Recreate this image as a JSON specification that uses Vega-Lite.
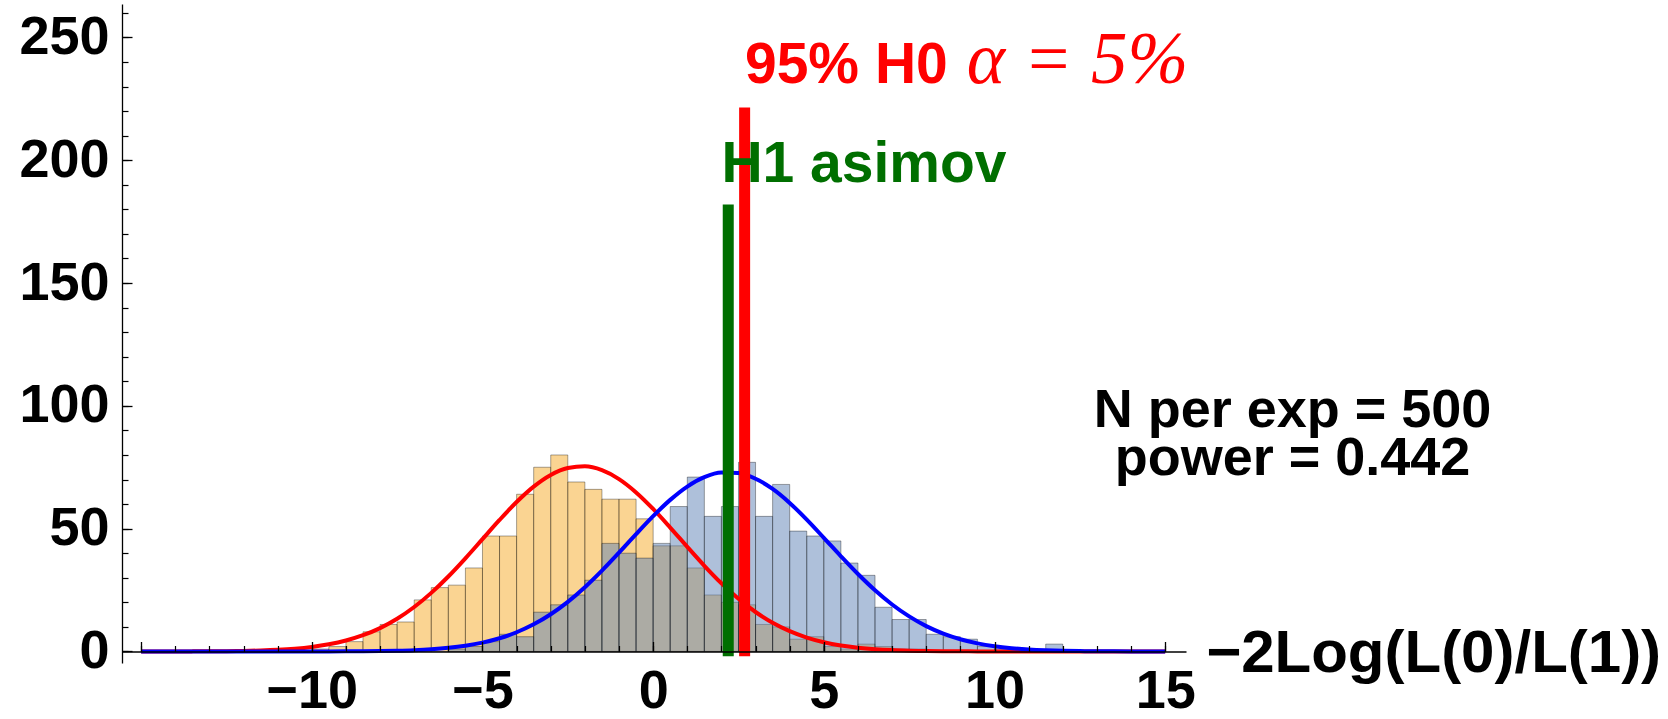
{
  "$schema": "https://vega.github.io/schema/vega-lite/v6.json",
  "width": 1064,
  "height": 659,
  "autosize": {"type": "none"},
  "padding": {"left": 122, "top": 4, "right": 482, "bottom": 56},
  "background": "white",
  "config": {
    "view": {"stroke": null},
    "axis": {"grid": false, "labelFont": "Liberation Sans", "labelFontWeight": "bold", "labelColor": "black", "domainColor": "black", "tickColor": "black", "labelFlush": false, "labelOverlap": false}
  },
  "resolve": {"axis": {"x": "independent", "y": "independent"}},
  "datasets": {
    "h0": [
      {"lo": -10, "hi": -9.5, "count": 1}, {"lo": -9.5, "hi": -9, "count": 2}, {"lo": -9, "hi": -8.5, "count": 4},
      {"lo": -8.5, "hi": -8, "count": 8}, {"lo": -8, "hi": -7.5, "count": 11}, {"lo": -7.5, "hi": -7, "count": 12},
      {"lo": -7, "hi": -6.5, "count": 21}, {"lo": -6.5, "hi": -6, "count": 26}, {"lo": -6, "hi": -5.5, "count": 27},
      {"lo": -5.5, "hi": -5, "count": 34}, {"lo": -5, "hi": -4.5, "count": 47}, {"lo": -4.5, "hi": -4, "count": 47},
      {"lo": -4, "hi": -3.5, "count": 64}, {"lo": -3.5, "hi": -3, "count": 75}, {"lo": -3, "hi": -2.5, "count": 80},
      {"lo": -2.5, "hi": -2, "count": 69}, {"lo": -2, "hi": -1.5, "count": 66}, {"lo": -1.5, "hi": -1, "count": 62},
      {"lo": -1, "hi": -0.5, "count": 62}, {"lo": -0.5, "hi": 0, "count": 54}, {"lo": 0, "hi": 0.5, "count": 43},
      {"lo": 0.5, "hi": 1, "count": 43}, {"lo": 1, "hi": 1.5, "count": 34}, {"lo": 1.5, "hi": 2, "count": 23},
      {"lo": 2, "hi": 2.5, "count": 20}, {"lo": 2.5, "hi": 3, "count": 19}, {"lo": 3, "hi": 3.5, "count": 11},
      {"lo": 3.5, "hi": 4, "count": 10}, {"lo": 4, "hi": 4.5, "count": 5}, {"lo": 4.5, "hi": 5, "count": 6},
      {"lo": 5, "hi": 5.5, "count": 2}, {"lo": 5.5, "hi": 6, "count": 1}, {"lo": 6, "hi": 6.5, "count": 3},
      {"lo": 6.5, "hi": 7, "count": 2}, {"lo": 7, "hi": 7.5, "count": 1}, {"lo": 7.5, "hi": 8, "count": 1}
    ],
    "h1": [
      {"lo": -6, "hi": -5.5, "count": 1}, {"lo": -5.5, "hi": -5, "count": 2}, {"lo": -5, "hi": -4.5, "count": 4},
      {"lo": -4.5, "hi": -4, "count": 7}, {"lo": -4, "hi": -3.5, "count": 6}, {"lo": -3.5, "hi": -3, "count": 16},
      {"lo": -3, "hi": -2.5, "count": 19}, {"lo": -2.5, "hi": -2, "count": 23}, {"lo": -2, "hi": -1.5, "count": 29},
      {"lo": -1.5, "hi": -1, "count": 44}, {"lo": -1, "hi": -0.5, "count": 40}, {"lo": -0.5, "hi": 0, "count": 38},
      {"lo": 0, "hi": 0.5, "count": 44}, {"lo": 0.5, "hi": 1, "count": 59}, {"lo": 1, "hi": 1.5, "count": 71},
      {"lo": 1.5, "hi": 2, "count": 55}, {"lo": 2, "hi": 2.5, "count": 59}, {"lo": 2.5, "hi": 3, "count": 77},
      {"lo": 3, "hi": 3.5, "count": 55}, {"lo": 3.5, "hi": 4, "count": 68}, {"lo": 4, "hi": 4.5, "count": 49},
      {"lo": 4.5, "hi": 5, "count": 47}, {"lo": 5, "hi": 5.5, "count": 45}, {"lo": 5.5, "hi": 6, "count": 36},
      {"lo": 6, "hi": 6.5, "count": 31}, {"lo": 6.5, "hi": 7, "count": 18}, {"lo": 7, "hi": 7.5, "count": 13},
      {"lo": 7.5, "hi": 8, "count": 13}, {"lo": 8, "hi": 8.5, "count": 7}, {"lo": 8.5, "hi": 9, "count": 6},
      {"lo": 9, "hi": 9.5, "count": 5}, {"lo": 9.5, "hi": 10, "count": 2}, {"lo": 10, "hi": 10.5, "count": 1},
      {"lo": 11.5, "hi": 12, "count": 3}
    ],
    "fitH0": [
      {"x": -15, "y": 0.004}, {"x": -14.5, "y": 0.008}, {"x": -14, "y": 0.017}, {"x": -13.5, "y": 0.033},
      {"x": -13, "y": 0.065}, {"x": -12.5, "y": 0.122}, {"x": -12, "y": 0.222}, {"x": -11.5, "y": 0.394},
      {"x": -11, "y": 0.68}, {"x": -10.5, "y": 1.136}, {"x": -10, "y": 1.843}, {"x": -9.5, "y": 2.907},
      {"x": -9, "y": 4.447}, {"x": -8.5, "y": 6.604}, {"x": -8, "y": 9.516}, {"x": -7.5, "y": 13.32},
      {"x": -7, "y": 18.09}, {"x": -6.5, "y": 23.85}, {"x": -6, "y": 30.52}, {"x": -5.5, "y": 37.92},
      {"x": -5, "y": 45.73}, {"x": -4.5, "y": 53.53}, {"x": -4, "y": 60.84}, {"x": -3.5, "y": 67.11},
      {"x": -3, "y": 71.86}, {"x": -2.5, "y": 74.68}, {"x": -2, "y": 75.36}, {"x": -1.5, "y": 73.8},
      {"x": -1, "y": 70.17}, {"x": -0.5, "y": 64.75}, {"x": 0, "y": 58.01}, {"x": 0.5, "y": 50.45},
      {"x": 1, "y": 42.59}, {"x": 1.5, "y": 34.89}, {"x": 2, "y": 27.75}, {"x": 2.5, "y": 21.43},
      {"x": 3, "y": 16.06}, {"x": 3.5, "y": 11.69}, {"x": 4, "y": 8.25}, {"x": 4.5, "y": 5.66},
      {"x": 5, "y": 3.77}, {"x": 5.5, "y": 2.43}, {"x": 6, "y": 1.53}, {"x": 6.5, "y": 0.93},
      {"x": 7, "y": 0.549}, {"x": 7.5, "y": 0.315}, {"x": 8, "y": 0.175}, {"x": 8.5, "y": 0.095},
      {"x": 9, "y": 0.05}, {"x": 9.5, "y": 0.025}, {"x": 10, "y": 0.0125}, {"x": 10.5, "y": 0.006},
      {"x": 11, "y": 0.003}, {"x": 11.5, "y": 0.001}, {"x": 12, "y": 0.0006}, {"x": 12.5, "y": 0.0002},
      {"x": 13, "y": 0.0001}, {"x": 13.5, "y": 0}, {"x": 14, "y": 0}, {"x": 14.5, "y": 0}, {"x": 15, "y": 0}
    ],
    "fitH1": [
      {"x": -15, "y": 0}, {"x": -14.5, "y": 0}, {"x": -14, "y": 0}, {"x": -13.5, "y": 0},
      {"x": -13, "y": 0.0001}, {"x": -12.5, "y": 0.0003}, {"x": -12, "y": 0.0006}, {"x": -11.5, "y": 0.0013},
      {"x": -11, "y": 0.003}, {"x": -10.5, "y": 0.006}, {"x": -10, "y": 0.013}, {"x": -9.5, "y": 0.025},
      {"x": -9, "y": 0.05}, {"x": -8.5, "y": 0.094}, {"x": -8, "y": 0.172}, {"x": -7.5, "y": 0.308},
      {"x": -7, "y": 0.532}, {"x": -6.5, "y": 0.896}, {"x": -6, "y": 1.464}, {"x": -5.5, "y": 2.324},
      {"x": -5, "y": 3.584}, {"x": -4.5, "y": 5.368}, {"x": -4, "y": 7.81}, {"x": -3.5, "y": 11.04},
      {"x": -3, "y": 15.16}, {"x": -2.5, "y": 20.21}, {"x": -2, "y": 26.18}, {"x": -1.5, "y": 32.94},
      {"x": -1, "y": 40.25}, {"x": -0.5, "y": 47.78}, {"x": 0, "y": 55.09}, {"x": 0.5, "y": 61.71},
      {"x": 1, "y": 67.14}, {"x": 1.5, "y": 70.95}, {"x": 2, "y": 72.83}, {"x": 2.5, "y": 72.62},
      {"x": 3, "y": 70.33}, {"x": 3.5, "y": 66.17}, {"x": 4, "y": 60.47}, {"x": 4.5, "y": 53.67},
      {"x": 5, "y": 46.27}, {"x": 5.5, "y": 38.76}, {"x": 6, "y": 31.53}, {"x": 6.5, "y": 24.91},
      {"x": 7, "y": 19.12}, {"x": 7.5, "y": 14.26}, {"x": 8, "y": 10.32}, {"x": 8.5, "y": 7.26},
      {"x": 9, "y": 4.96}, {"x": 9.5, "y": 3.29}, {"x": 10, "y": 2.12}, {"x": 10.5, "y": 1.33},
      {"x": 11, "y": 0.81}, {"x": 11.5, "y": 0.478}, {"x": 12, "y": 0.274}, {"x": 12.5, "y": 0.153},
      {"x": 13, "y": 0.083}, {"x": 13.5, "y": 0.044}, {"x": 14, "y": 0.022}, {"x": 14.5, "y": 0.011}, {"x": 15, "y": 0.005}
    ]
  },
  "layer": [
    {
      "data": {"name": "h0"},
      "mark": {"type": "bar", "fill": "#F5A925", "fillOpacity": 0.5, "stroke": "#000000", "strokeOpacity": 0.35, "strokeWidth": 1},
      "encoding": {
        "x": {"field": "lo", "type": "quantitative", "scale": {"domain": [-15.56, 15.61], "nice": false, "zero": false},
              "axis": {"orient": "bottom", "offset": -11.5, "values": [-15, -10, -5, 0, 5, 10, 15], "format": "d",
                       "labelExpr": "datum.value == -15 ? '' : datum.label", "tickSize": -10, "tickWidth": 1.3,
                       "labelPadding": 23, "labelFontSize": 54, "domainWidth": 1.3, "title": null, "zindex": 1}},
        "x2": {"field": "hi"},
        "y": {"field": "count", "type": "quantitative", "scale": {"domain": [-4.7, 263.6], "nice": false, "zero": false},
              "axis": {"orient": "left", "values": [0, 50, 100, 150, 200, 250], "format": "d", "tickSize": -10, "tickWidth": 1.3,
                       "labelPadding": 23, "labelFontSize": 54, "domainWidth": 1.3, "title": null, "zindex": 1}},
        "y2": {"datum": 0}
      }
    },
    {
      "data": {"name": "h1"},
      "mark": {"type": "bar", "fill": "#5E81B5", "fillOpacity": 0.5, "stroke": "#000000", "strokeOpacity": 0.35, "strokeWidth": 1},
      "encoding": {
        "x": {"field": "lo", "type": "quantitative", "scale": {"domain": [-15.56, 15.61], "nice": false, "zero": false},
              "axis": {"orient": "bottom", "offset": -11.5, "values": [-15,-14,-13,-12,-11,-10,-9,-8,-7,-6,-5,-4,-3,-2,-1,0,1,2,3,4,5,6,7,8,9,10,11,12,13,14,15],
                       "labels": false, "domain": false, "tickSize": -6, "tickWidth": 1.2, "title": null, "zindex": 1}},
        "x2": {"field": "hi"},
        "y": {"field": "count", "type": "quantitative", "scale": {"domain": [-4.7, 263.6], "nice": false, "zero": false},
              "axis": {"orient": "left", "values": [0,10,20,30,40,50,60,70,80,90,100,110,120,130,140,150,160,170,180,190,200,210,220,230,240,250,260],
                       "labels": false, "domain": false, "tickSize": -6, "tickWidth": 1.2, "title": null, "zindex": 1}},
        "y2": {"datum": 0}
      }
    },
    {
      "data": {"name": "fitH0"},
      "mark": {"type": "line", "color": "#FF0000", "strokeWidth": 4, "interpolate": "monotone"},
      "encoding": {
        "x": {"field": "x", "type": "quantitative", "scale": {"domain": [-15.56, 15.61], "nice": false, "zero": false}, "axis": null},
        "y": {"field": "y", "type": "quantitative", "scale": {"domain": [-4.7, 263.6], "nice": false, "zero": false}, "axis": null}
      }
    },
    {
      "data": {"name": "fitH1"},
      "mark": {"type": "line", "color": "#0000FF", "strokeWidth": 4, "interpolate": "monotone"},
      "encoding": {
        "x": {"field": "x", "type": "quantitative", "scale": {"domain": [-15.56, 15.61], "nice": false, "zero": false}, "axis": null},
        "y": {"field": "y", "type": "quantitative", "scale": {"domain": [-4.7, 263.6], "nice": false, "zero": false}, "axis": null}
      }
    },
    {
      "data": {"values": [{"x": 2.2, "top": 182, "bottom": -2}]},
      "mark": {"type": "rule", "color": "#006F00", "strokeWidth": 11, "strokeCap": "butt"},
      "encoding": {
        "x": {"field": "x", "type": "quantitative", "scale": {"domain": [-15.56, 15.61], "nice": false, "zero": false}, "axis": null},
        "y": {"field": "top", "type": "quantitative", "scale": {"domain": [-4.7, 263.6], "nice": false, "zero": false}, "axis": null},
        "y2": {"field": "bottom"}
      }
    },
    {
      "data": {"values": [{"x": 2.68, "top": 221.5, "bottom": -2}]},
      "mark": {"type": "rule", "color": "#FF0000", "strokeWidth": 11, "strokeCap": "butt"},
      "encoding": {
        "x": {"field": "x", "type": "quantitative", "scale": {"domain": [-15.56, 15.61], "nice": false, "zero": false}, "axis": null},
        "y": {"field": "top", "type": "quantitative", "scale": {"domain": [-4.7, 263.6], "nice": false, "zero": false}, "axis": null},
        "y2": {"field": "bottom"}
      }
    },
    {
      "data": {"values": [{"x": 2.69, "y": 231.3, "label": "95% H0"}]},
      "mark": {"type": "text", "font": "Liberation Sans", "fontWeight": "bold", "fontSize": 57, "color": "#FF0000", "align": "left", "baseline": "alphabetic"},
      "encoding": {
        "x": {"field": "x", "type": "quantitative", "scale": {"domain": [-15.56, 15.61], "nice": false, "zero": false}, "axis": null},
        "y": {"field": "y", "type": "quantitative", "scale": {"domain": [-4.7, 263.6], "nice": false, "zero": false}, "axis": null},
        "text": {"field": "label"}
      }
    },
    {
      "data": {"values": [{"x": 9.19, "y": 231.6, "label": "α = 5%"}]},
      "mark": {"type": "text", "font": "Liberation Serif", "fontStyle": "italic", "fontSize": 73, "color": "#FF0000", "align": "left", "baseline": "alphabetic"},
      "encoding": {
        "x": {"field": "x", "type": "quantitative", "scale": {"domain": [-15.56, 15.61], "nice": false, "zero": false}, "axis": null},
        "y": {"field": "y", "type": "quantitative", "scale": {"domain": [-4.7, 263.6], "nice": false, "zero": false}, "axis": null},
        "text": {"field": "label"}
      }
    },
    {
      "data": {"values": [{"x": 2.0, "y": 191.2, "label": "H1 asimov"}]},
      "mark": {"type": "text", "font": "Liberation Sans", "fontWeight": "bold", "fontSize": 57, "color": "#006F00", "align": "left", "baseline": "alphabetic"},
      "encoding": {
        "x": {"field": "x", "type": "quantitative", "scale": {"domain": [-15.56, 15.61], "nice": false, "zero": false}, "axis": null},
        "y": {"field": "y", "type": "quantitative", "scale": {"domain": [-4.7, 263.6], "nice": false, "zero": false}, "axis": null},
        "text": {"field": "label"}
      }
    },
    {
      "data": {"values": [{"x": 18.73, "y": 91.45, "label": "N per exp = 500"}, {"x": 18.73, "y": 71.8, "label": "power = 0.442"}]},
      "mark": {"type": "text", "font": "Liberation Sans", "fontWeight": "bold", "fontSize": 54, "color": "#000000", "align": "center", "baseline": "alphabetic"},
      "encoding": {
        "x": {"field": "x", "type": "quantitative", "scale": {"domain": [-15.56, 15.61], "nice": false, "zero": false}, "axis": null},
        "y": {"field": "y", "type": "quantitative", "scale": {"domain": [-4.7, 263.6], "nice": false, "zero": false}, "axis": null},
        "text": {"field": "label"}
      }
    },
    {
      "data": {"values": [{"x": 16.2, "y": -8.4, "label": "−2Log(L(0)/L(1))"}]},
      "mark": {"type": "text", "font": "Liberation Sans", "fontWeight": "bold", "fontSize": 60, "color": "#000000", "align": "left", "baseline": "alphabetic"},
      "encoding": {
        "x": {"field": "x", "type": "quantitative", "scale": {"domain": [-15.56, 15.61], "nice": false, "zero": false}, "axis": null},
        "y": {"field": "y", "type": "quantitative", "scale": {"domain": [-4.7, 263.6], "nice": false, "zero": false}, "axis": null},
        "text": {"field": "label"}
      }
    }
  ]
}
